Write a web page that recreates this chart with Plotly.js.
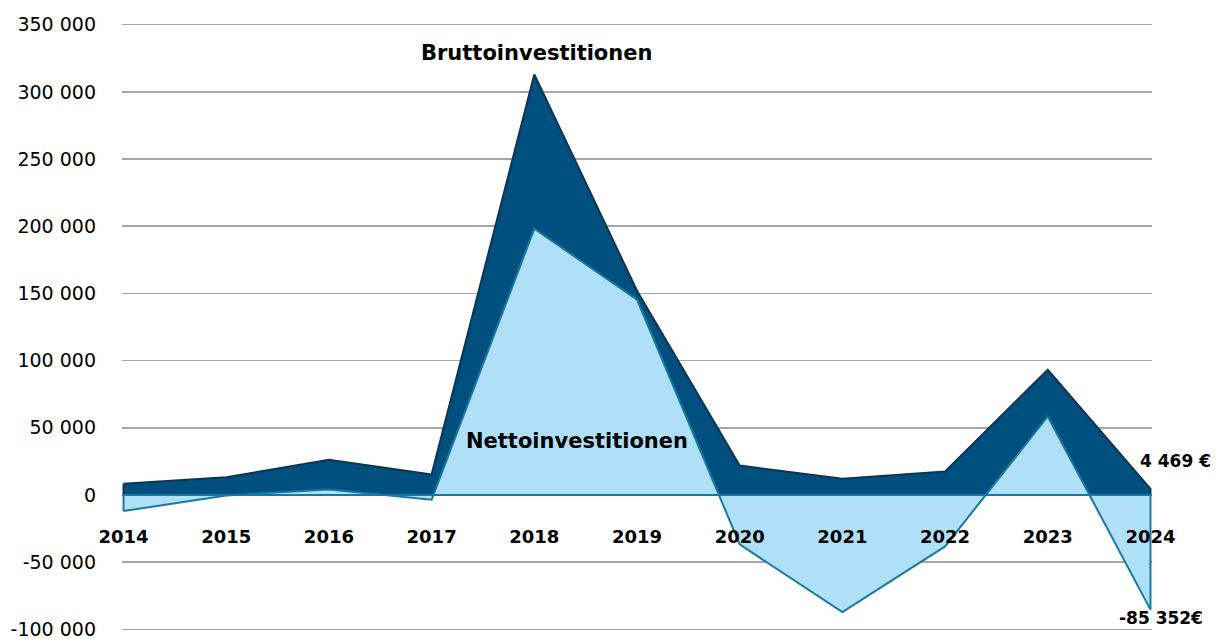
<!DOCTYPE html>
<html>
<head>
<meta charset="utf-8">
<script src="https://cdn.plot.ly/plotly-3.0.1.min.js"></script>
<style>html,body{margin:0;padding:0;background:#fff;}#chart{width:1222px;height:639px;}</style>
</head>
<body>
<div id="chart"></div>
<script>
const years = [2014, 2015, 2016, 2017, 2018, 2019, 2020, 2021, 2022, 2023, 2024];
const yearLabels = ["2014", "2015", "2016", "2017", "2018", "2019", "2020", "2021", "2022", "2023", "2024"];
const brutto = [8300, 13200, 26200, 15300, 312900, 152000, 21900, 12000, 17500, 93200, 4469];
const netto = [-12000, -400, 4100, -3600, 198100, 145400, -36800, -87200, -38300, 58400, -85352];
const yTicks = [-100000, -50000, 0, 50000, 100000, 150000, 200000, 250000, 300000, 350000];
const yTickLabels = ["-100 000", "-50 000", "0", "50 000", "100 000", "150 000", "200 000", "250 000", "300 000", "350 000"];

function closed(xs, ys) {
  return {
    x: xs.concat([xs[xs.length - 1], xs[0], xs[0]]),
    y: ys.concat([0, 0, ys[0]])
  };
}
const bp = closed(years, brutto);
const np = closed(years, netto);

const traces = [
  {x: bp.x, y: bp.y, type: 'scatter', mode: 'lines', fill: 'toself',
   fillcolor: '#00507f', line: {color: '#0e3454', width: 2}, hoverinfo: 'skip', showlegend: false},
  {x: np.x, y: np.y, type: 'scatter', mode: 'lines', fill: 'toself',
   fillcolor: '#b0e0f8', line: {color: '#157aa3', width: 2}, hoverinfo: 'skip', showlegend: false}
];

const bold = {family: 'DejaVu Sans', size: 21, color: '#000', weight: 'bold'};
const small = {family: 'DejaVu Sans', size: 17, color: '#000', weight: 'bold'};
const last = years.length - 1;

const layout = {
  width: 1222, height: 639,
  margin: {l: 121.5, r: 69.5, t: 22, b: 6.8, pad: 0},
  paper_bgcolor: '#fff', plot_bgcolor: '#fff',
  showlegend: false,
  xaxis: {
    range: [2013.985, 2024.015], anchor: 'free', position: 0.177,
    tickvals: years, ticktext: yearLabels, showgrid: false, zeroline: false,
    showline: false, ticks: '', tickfont: {family: 'DejaVu Sans', size: 18, color: '#000', weight: 'bold'}
  },
  yaxis: {
    range: [-102000, 352000], tickvals: yTicks, ticktext: yTickLabels,
    showgrid: true, gridcolor: '#a6a6a6', gridwidth: 1.5, zeroline: false, showline: false,
    ticks: '', ticklabelstandoff: 25, ticklabeloverflow: 'allow',
    tickfont: {family: 'DejaVu Sans', size: 19, color: '#000'}
  },
  annotations: [
    {x: years[4], y: brutto[4], xref: 'x', yref: 'y', text: 'Bruttoinvestitionen', showarrow: false,
     font: bold, xanchor: 'center', yanchor: 'middle', xshift: 2, yshift: 22},
    {x: years[4], y: 40000, xref: 'x', yref: 'y', text: 'Nettoinvestitionen', showarrow: false,
     font: bold, xanchor: 'center', yanchor: 'middle', xshift: 43, yshift: 0},
    {x: years[last], y: brutto[last], xref: 'x', yref: 'y', text: '4 469 €', showarrow: false,
     font: small, xanchor: 'left', yanchor: 'middle', xshift: -12, yshift: 28},
    {x: years[last], y: netto[last], xref: 'x', yref: 'y', text: '-85 352€', showarrow: false,
     font: small, xanchor: 'left', yanchor: 'middle', xshift: -33, yshift: -8}
  ]
};

Plotly.newPlot('chart', traces, layout, {displayModeBar: false, staticPlot: true});
</script>
</body>
</html>
